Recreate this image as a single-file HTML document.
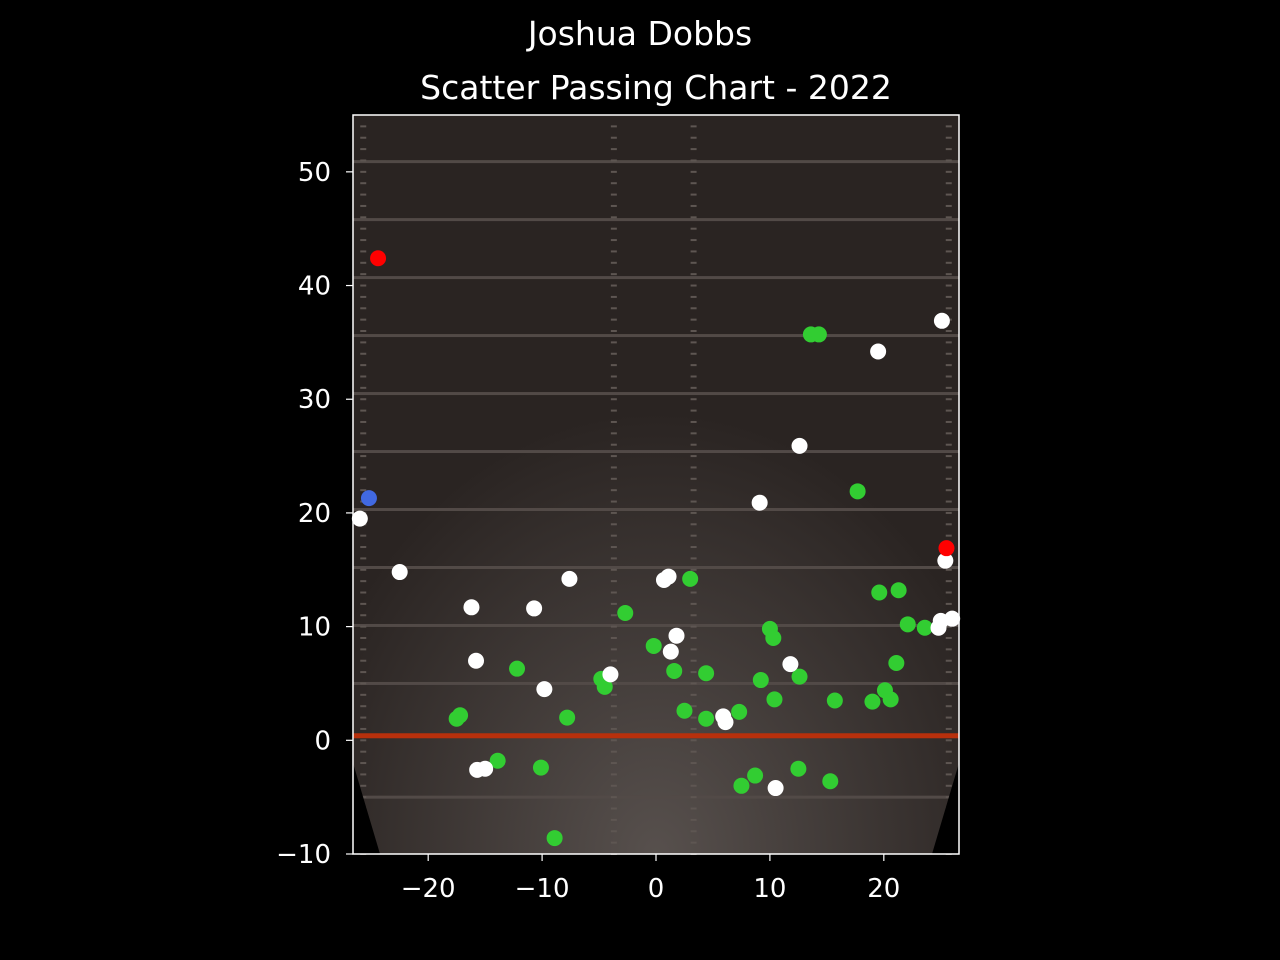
<!DOCTYPE html>
<html><head><meta charset="utf-8"><style>
html,body{margin:0;padding:0;background:#000;overflow:hidden;width:1280px;height:960px;}
svg{display:block;}
svg text{font-family:"DejaVu Sans","Liberation Sans",sans-serif;fill:#fff;}
</style></head><body>
<svg id="chart" width="1280" height="960" xmlns="http://www.w3.org/2000/svg">
<defs>
<radialGradient id="glow" cx="0.5" cy="1" r="0.6">
<stop offset="0" stop-color="#57504d"/><stop offset="1" stop-color="#2a2422"/>
</radialGradient>
</defs>
<rect width="1280" height="960" fill="#000"/>
<text x="640" y="45" font-size="33" text-anchor="middle">Joshua Dobbs</text>
<text x="656" y="99" font-size="33" text-anchor="middle">Scatter Passing Chart - 2022</text>
<g id="field"></g>
<g id="points"></g>
<g id="axes"></g>
</svg>
<script>
const completeX=[13.6,14.3,17.7,19.6,21.3,22.1,23.6,21.1,20.1,20.6,19.0,15.7,12.6,10.4,10.0,10.3,9.2,7.3,4.4,4.4,2.5,1.6,3.0,-0.2,-2.7,-4.8,-4.5,-7.8,-12.2,-17.2,-17.5,-13.9,-10.1,-8.9,7.5,8.7,12.5,15.3];
const completeY=[35.7,35.7,21.9,13.0,13.2,10.2,9.9,6.8,4.4,3.6,3.4,3.5,5.6,3.6,9.8,9.0,5.3,2.5,1.9,5.9,2.6,6.1,14.2,8.3,11.2,5.4,4.7,2.0,6.3,2.2,1.9,-1.8,-2.4,-8.6,-4.0,-3.1,-2.5,-3.6];
const incompleteX=[25.1,19.5,12.6,9.1,25.4,25.0,24.8,26.0,11.8,1.8,1.3,0.7,1.1,5.9,6.1,10.5,-4.0,-7.6,-10.7,-9.8,-16.2,-15.8,-15.7,-15.0,-22.5,-26.0];
const incompleteY=[36.9,34.2,25.9,20.9,15.8,10.5,9.9,10.7,6.7,9.2,7.8,14.1,14.4,2.1,1.6,-4.2,5.8,14.2,11.6,4.5,11.7,7.0,-2.6,-2.5,14.8,19.5];
const intX=[-24.4,25.5];
const intY=[42.4,16.9];
const tdX=[-25.2];
const tdY=[21.3];
const xTicks=[-20,-10,0,10,20];
const yTicks=[-10,0,10,20,30,40,50];
const yardLines=[-5,5,10.1,15.2,20.3,25.4,30.5,35.6,40.7,45.8,50.9];

const L=353,R=959,T=115,B=854,xMin=-26.6,xMax=26.6,yMin=-10,yMax=55;
const sx=v=>L+(v-xMin)/(xMax-xMin)*(R-L);
const sy=v=>B-(v-yMin)/(yMax-yMin)*(B-T);
const NS="http://www.w3.org/2000/svg";
function mk(tag,attrs,parent){const e=document.createElementNS(NS,tag);for(const k in attrs)e.setAttribute(k,attrs[k]);parent.appendChild(e);return e;}
const field=document.getElementById('field');
let r=mk('rect',{x:L,y:T,width:R-L,height:B-T,fill:'url(#glow)'},field);


yardLines.forEach(v=>{const l=mk('rect',{x:L,y:sy(v)-1.5,width:R-L,height:3,fill:'#524a47'},field);

});
[-3.7,3.3,-25.7,25.7].forEach(h=>{for(let v=-10;v<55;v+=1){const m=mk('rect',{x:sx(h)-3,y:sy(v)-1,width:6,height:2,fill:'#5e5652'},field);

}});
let los=mk('rect',{x:L,y:sy(0.4)-2.5,width:R-L,height:5,fill:'#b8300c'},field);


let t1=mk('polygon',{points:`${L},${sy(-2)} ${L+27},${B} ${L},${B}`,fill:'#000'},field);


let t2=mk('polygon',{points:`${R},${sy(-2)} ${R-27},${B} ${R},${B}`,fill:'#000'},field);



const pts=document.getElementById('points');
function series(xs,ys,color,name){xs.forEach((x,i)=>{const c=mk('circle',{cx:sx(x),cy:sy(ys[i]),r:8,fill:color},pts);

});}
series(completeX,completeY,'#32cd32','complete-pass');
series(incompleteX,incompleteY,'#ffffff','incomplete-pass');
series(intX,intY,'#ff0000','interception');
series(tdX,tdY,'#4169e1','touchdown');

const ax=document.getElementById('axes');
let fr=mk('rect',{x:L,y:T,width:R-L,height:B-T,fill:'none',stroke:'#fff','stroke-width':1.5},ax);


xTicks.forEach(v=>{mk('line',{x1:sx(v),x2:sx(v),y1:B,y2:B+7,stroke:'#fff','stroke-width':1.2},ax);
const t=mk('text',{x:sx(v),y:B+43,'font-size':26,'text-anchor':'middle'},ax);t.textContent=v<0?'\u2212'+(-v):v;

});
yTicks.forEach(v=>{mk('line',{x1:L-7,x2:L,y1:sy(v),y2:sy(v),stroke:'#fff','stroke-width':1.2},ax);
const t=mk('text',{x:L-22,y:sy(v)+9,'font-size':26,'text-anchor':'end'},ax);t.textContent=v<0?'\u2212'+(-v):v;

});
</script>
</body></html>
